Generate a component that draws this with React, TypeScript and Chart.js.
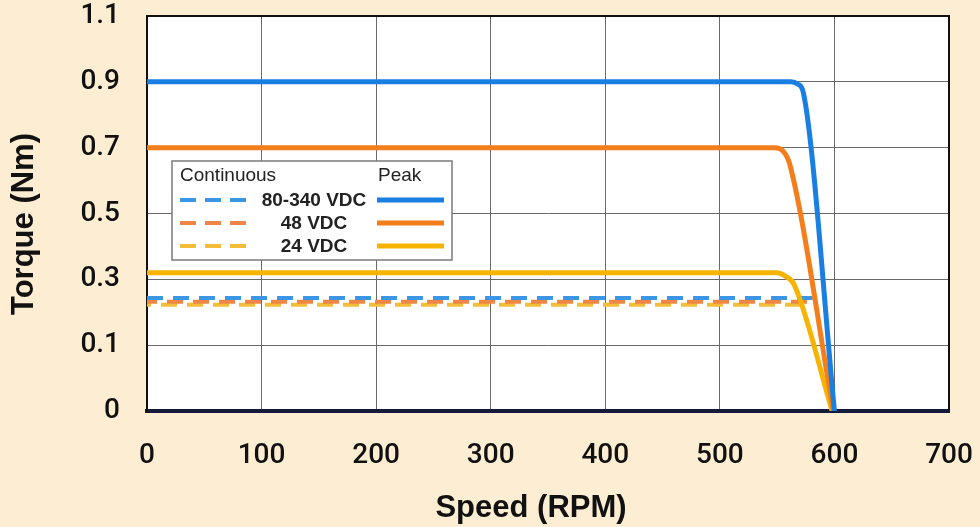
import React, { useEffect, useRef } from "react";
import { Chart, registerables } from "chart.js";

Chart.register(...registerables);

const FONT = '"Liberation Sans", Arial, Helvetica, sans-serif';
const TICK_FONT = 'Roboto, "Liberation Sans", Arial, sans-serif';

// Axis ticks (y-axis grid is evenly spaced; the bottom line is labelled "0")
const xTickValues = [0, 100, 200, 300, 400, 500, 600, 700];
const yTickValues = [-0.1, 0.1, 0.3, 0.5, 0.7, 0.9, 1.1];
const yTickLabels = ["0", "0.1", "0.3", "0.5", "0.7", "0.9", "1.1"];
const BOTTOM = -0.1;
const xTitle = "Speed (RPM)";
const yTitle = "Torque (Nm)";

// Peak curves
const peakBlueSpeed = [0, 562, 568, 573, 600];
const peakBlueTorque = [0.9, 0.9, 0.893, 0.865, BOTTOM];
const peakOrangeSpeed = [0, 548, 555, 561, 599];
const peakOrangeTorque = [0.7, 0.7, 0.69, 0.65, BOTTOM];
const peakYellowSpeed = [0, 550, 557, 565, 598];
const peakYellowTorque = [0.32, 0.32, 0.31, 0.283, BOTTOM];

// Continuous curves
const contBlueSpeed = [0, 581];
const contBlueTorque = [0.243, 0.243];
const contOrangeSpeed = [0, 583];
const contOrangeTorque = [0.232, 0.232];
const contYellowSpeed = [0, 579];
const contYellowTorque = [0.223, 0.223];

const legendRows = ["80-340 VDC", "48 VDC", "24 VDC"];
const peakColors = ["#1a7fe2", "#f47d1c", "#f6b300"];
const contColors = ["#3b97e6", "#ef8646", "#f3bd3a"];

const pts = (xs: number[], ys: number[]) => xs.map((x, i) => ({ x, y: ys[i] }));

export default function App() {
  const ref = useRef<HTMLCanvasElement | null>(null);

  useEffect(() => {
    if (!ref.current) return;

    const bgPlugin = {
      id: "bg",
      beforeDraw(chart: any) {
        const { ctx, chartArea: a, width, height } = chart;
        ctx.save();
        ctx.fillStyle = "#fdeed3";
        ctx.fillRect(0, 0, width, height);
        ctx.fillStyle = "#ffffff";
        ctx.fillRect(a.left, a.top, a.right - a.left, a.bottom - a.top);
        ctx.restore();
      },
      afterDraw(chart: any) {
        const { ctx, chartArea: a } = chart;
        ctx.save();
        ctx.strokeStyle = "#111";
        ctx.lineWidth = 2;
        ctx.beginPath();
        ctx.moveTo(a.left, a.top);
        ctx.lineTo(a.right, a.top);
        ctx.lineTo(a.right, a.bottom);
        ctx.stroke();
        // axis titles
        ctx.fillStyle = "#111";
        ctx.font = `bold 31px ${FONT}`;
        ctx.textAlign = "center";
        ctx.textBaseline = "alphabetic";
        ctx.fillText(xTitle, 531, 517);
        ctx.translate(33, 224);
        ctx.rotate(-Math.PI / 2);
        ctx.fillText(yTitle, 0, 0);
        ctx.restore();
      },
    };

    const legendPlugin = {
      id: "customLegend",
      afterDatasetsDraw(chart: any) {
        const { ctx } = chart;
        const x0 = 172, y0 = 161, w = 280, h = 99;
        ctx.save();
        ctx.fillStyle = "#ffffff";
        ctx.fillRect(x0, y0, w, h);
        ctx.strokeStyle = "#7a7a7a";
        ctx.lineWidth = 1.5;
        ctx.strokeRect(x0, y0, w, h);
        ctx.fillStyle = "#222";
        ctx.textBaseline = "middle";
        ctx.font = `19px ${FONT}`;
        ctx.textAlign = "left";
        ctx.fillText("Continuous", 180, 176);
        ctx.fillText("Peak", 378, 176);
        const rowsY = [200, 223, 246];
        legendRows.forEach((lbl, i) => {
          const y = rowsY[i];
          ctx.font = `bold 19px ${FONT}`;
          ctx.textAlign = "center";
          ctx.fillStyle = "#222";
          ctx.fillText(lbl, 314, y + 1);
          ctx.lineWidth = 4;
          ctx.setLineDash([16, 9]);
          ctx.strokeStyle = contColors[i];
          ctx.beginPath();
          ctx.moveTo(180, y);
          ctx.lineTo(248, y);
          ctx.stroke();
          ctx.setLineDash([]);
          ctx.lineWidth = 5;
          ctx.strokeStyle = peakColors[i];
          ctx.beginPath();
          ctx.moveTo(377, y);
          ctx.lineTo(444, y);
          ctx.stroke();
        });
        ctx.restore();
      },
    };

    const peak = (label: string, xs: number[], ys: number[], color: string) => ({
      label,
      data: pts(xs, ys),
      borderColor: color,
      backgroundColor: color,
      borderWidth: 5,
      pointRadius: 0,
      fill: false,
      cubicInterpolationMode: "monotone" as const,
      borderJoinStyle: "round" as const,
      borderCapStyle: "round" as const,
    });
    const cont = (label: string, xs: number[], ys: number[], color: string, off: number) => ({
      label,
      data: pts(xs, ys),
      borderColor: color,
      backgroundColor: color,
      borderWidth: 4,
      borderDash: [16, 10],
      borderDashOffset: off,
      pointRadius: 0,
      fill: false,
    });

    const chart = new Chart(ref.current, {
      type: "line",
      data: {
        datasets: [
          peak("80-340 VDC Peak", peakBlueSpeed, peakBlueTorque, peakColors[0]),
          peak("48 VDC Peak", peakOrangeSpeed, peakOrangeTorque, peakColors[1]),
          peak("24 VDC Peak", peakYellowSpeed, peakYellowTorque, peakColors[2]),
          cont("80-340 VDC Continuous", contBlueSpeed, contBlueTorque, contColors[0], 0),
          cont("48 VDC Continuous", contOrangeSpeed, contOrangeTorque, contColors[1], 6),
          cont("24 VDC Continuous", contYellowSpeed, contYellowTorque, contColors[2], 12),
        ],
      },
      options: {
        animation: false,
        responsive: false,
        devicePixelRatio: 1,
        layout: { padding: { left: 0, right: 31, top: 16, bottom: 0 } },
        plugins: { legend: { display: false }, tooltip: { enabled: false } },
        scales: {
          x: {
            type: "linear",
            min: 0,
            max: 700,
            afterBuildTicks: (s: any) => {
              s.ticks = xTickValues.map((v) => ({ value: v }));
            },
            afterFit: (s: any) => {
              s.height = 116;
              s.paddingLeft = 0;
              s.paddingRight = 0;
            },
            grid: { color: "#6a6a6a", lineWidth: 1, drawTicks: false },
            border: { color: "#15193a", width: 4 },
            ticks: {
              padding: 28,
              color: "#111",
              font: { family: TICK_FONT, size: 28, weight: "500" },
              maxRotation: 0,
            },
            title: { display: false },
          },
          y: {
            type: "linear",
            min: -0.1,
            max: 1.1,
            afterBuildTicks: (s: any) => {
              s.ticks = yTickValues.map((v) => ({ value: v }));
            },
            afterFit: (s: any) => {
              s.width = 147;
              s.paddingTop = 0;
              s.paddingBottom = 0;
            },
            grid: { color: "#6a6a6a", lineWidth: 1, drawTicks: false },
            border: { color: "#111", width: 2 },
            ticks: {
              padding: 27,
              color: "#111",
              font: { family: TICK_FONT, size: 28, weight: "500" },
              callback: (v: any) => {
                let best = 0;
                yTickValues.forEach((t, i) => {
                  if (Math.abs(t - v) < Math.abs(yTickValues[best] - v)) best = i;
                });
                return yTickLabels[best];
              },
            },
            title: { display: false },
          },
        },
      },
      plugins: [bgPlugin, legendPlugin],
    } as any);

    return () => chart.destroy();
  }, []);

  return (
    <div style={{ position: "fixed", left: 0, top: 0, width: 980, height: 527 }}>
      <canvas ref={ref} width={980} height={527} style={{ width: 980, height: 527, display: "block" }} />
    </div>
  );
}
